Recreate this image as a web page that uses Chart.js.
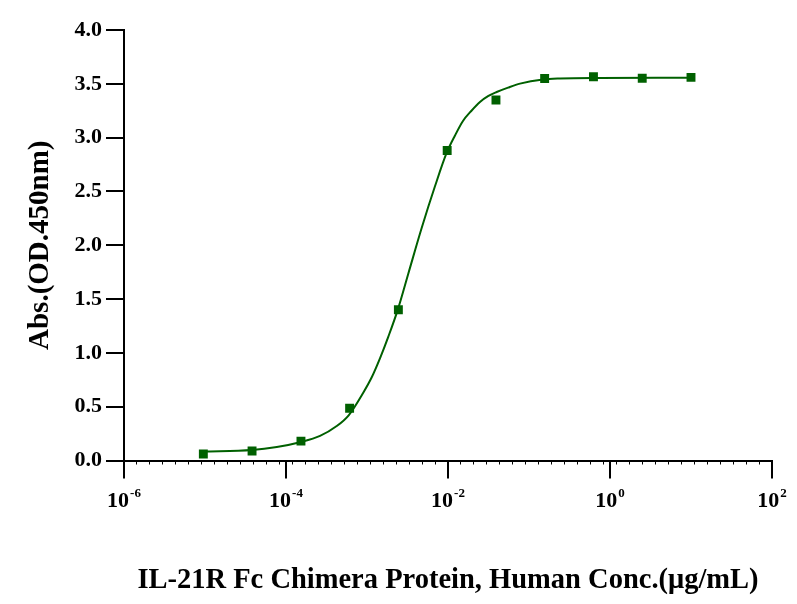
<!DOCTYPE html>
<html>
<head>
<meta charset="utf-8">
<title>IL-21R Fc Chimera Protein ELISA</title>
<script src="https://cdn.jsdelivr.net/npm/chart.js@4.4.1/dist/chart.umd.min.js"></script>
<style>
    html, body { margin: 0; padding: 0; background: #fff; }
    #wrap { width: 797px; height: 604px; }
</style>
</head>
<body>
<div id="wrap"><canvas id="elisaChart" width="797" height="604"></canvas></div>
<script>
// Measured points (4-fold dilution series)
const concentration = [9.54e-6, 3.81e-5, 1.53e-4, 6.10e-4, 2.44e-3, 9.77e-3, 0.0391, 0.156, 0.625, 2.5, 10];
const absorbance = [0.06, 0.088, 0.18, 0.485, 1.40, 2.88, 3.35, 3.55, 3.565, 3.552, 3.56];

// Fitted curve
const fitConc = [9.5e-6, 3.8e-5, 7.7e-5, 1.49e-4, 2.63e-4, 4.23e-4, 5.94e-4, 8.99e-4, 1.14e-3, 1.45e-3,
    1.83e-3, 2.39e-3, 3.24e-3, 4.73e-3, 6.92e-3, 9.64e-3, 1.22e-2, 1.53e-2, 1.95e-2, 2.48e-2,
    3.12e-2, 3.99e-2, 5.51e-2, 7.74e-2, 0.149, 0.242, 0.753, 9.73];
const fitAbs = [0.084, 0.097, 0.125, 0.170, 0.228, 0.32, 0.42, 0.63, 0.771, 0.952,
    1.149, 1.397, 1.738, 2.16, 2.55, 2.86, 3.02, 3.155, 3.25, 3.331,
    3.385, 3.424, 3.465, 3.502, 3.540, 3.549, 3.554, 3.556];

// Axis ticks
const xTicks = [1e-6, 1e-4, 1e-2, 1, 1e2];
const yTicks = [0, 0.5, 1.0, 1.5, 2.0, 2.5, 3.0, 3.5, 4.0];
const minorCount = 50;

const green = '#006000';
const serif = '"Liberation Serif", "Times New Roman", serif';

// draws 10 with a raised exponent under each major x tick
const powerLabels = {
    id: 'powerLabels',
    afterDraw(chart) {
        const sx = chart.scales.x;
        const ctx = chart.ctx;
        ctx.save();
        ctx.fillStyle = '#000';
        ctx.textBaseline = 'alphabetic';
        ctx.textAlign = 'left';
        sx.ticks.forEach(t => {
            const exp = String(Math.round(Math.log10(t.value)));
            ctx.font = `bold 22px ${serif}`;
            const wb = ctx.measureText('10').width;
            ctx.font = `bold 13px ${serif}`;
            const we = ctx.measureText(exp).width;
            const x0 = sx.getPixelForValue(t.value) - (wb + we + 1) / 2;
            ctx.font = `bold 22px ${serif}`;
            ctx.fillText('10', x0, sx.top + 46);
            ctx.font = `bold 13px ${serif}`;
            ctx.fillText(exp, x0 + wb + 1, sx.top + 36);
        });
        ctx.restore();
    }
};

const ctx = document.getElementById('elisaChart').getContext('2d');
new Chart(ctx, {
    type: 'scatter',
    data: {
        datasets: [
            {
                label: 'Fit',
                type: 'line',
                data: fitConc.map((c, i) => ({ x: c, y: fitAbs[i] })),
                borderColor: green,
                borderWidth: 2,
                pointRadius: 0,
                cubicInterpolationMode: 'monotone',
                fill: false,
                order: 2
            },
            {
                label: 'Measured',
                data: concentration.map((c, i) => ({ x: c, y: absorbance[i] })),
                pointStyle: 'rect',
                pointRadius: 6.3,
                backgroundColor: green,
                borderWidth: 0,
                showLine: false,
                order: 1
            }
        ]
    },
    options: {
        responsive: false,
        animation: false,
        layout: { padding: { left: 0, right: 25, top: 30, bottom: 0 } },
        plugins: { legend: { display: false }, tooltip: { enabled: false } },
        scales: {
            x: {
                type: 'logarithmic',
                position: 'bottom',
                weight: 1,
                min: 1e-6,
                max: 1e2,
                afterBuildTicks: s => { s.ticks = xTicks.map(v => ({ value: v })); },
                afterFit: s => { s.height = 143.5; },
                ticks: { display: false },
                grid: { drawOnChartArea: false, tickLength: 18, lineWidth: 2, color: '#000' },
                border: { display: true, color: '#000', width: 2 },
                title: {
                    display: true,
                    text: 'IL-21R Fc Chimera Protein, Human Conc.(μg/mL)',
                    color: '#000',
                    font: { family: serif, size: 28.5, weight: 'bold' },
                    padding: { top: 0, bottom: 6 }
                }
            },
            xMinor: {
                type: 'linear',
                position: 'bottom',
                weight: 0,
                min: 0,
                max: minorCount,
                afterFit: s => { s.height = 0; },
                ticks: { display: false, stepSize: 1 },
                grid: { drawOnChartArea: false, tickLength: 4, lineWidth: 1, color: '#000' },
                border: { display: false }
            },
            y: {
                type: 'linear',
                min: 0,
                max: 4,
                afterBuildTicks: s => { s.ticks = yTicks.map(v => ({ value: v })); },
                afterFit: s => { s.width = 124; },
                ticks: {
                    color: '#000',
                    padding: 4,
                    font: { family: serif, size: 22, weight: 'bold' },
                    callback: v => Number(v).toFixed(1)
                },
                grid: { drawOnChartArea: false, tickLength: 18, lineWidth: 2, color: '#000' },
                border: { display: true, color: '#000', width: 2 },
                title: {
                    display: true,
                    text: 'Abs.(OD.450nm)',
                    color: '#000',
                    font: { family: serif, size: 29, weight: 'bold' },
                    padding: { top: 23, bottom: 0 }
                }
            }
        }
    },
    plugins: [powerLabels]
});
</script>
</body>
</html>
